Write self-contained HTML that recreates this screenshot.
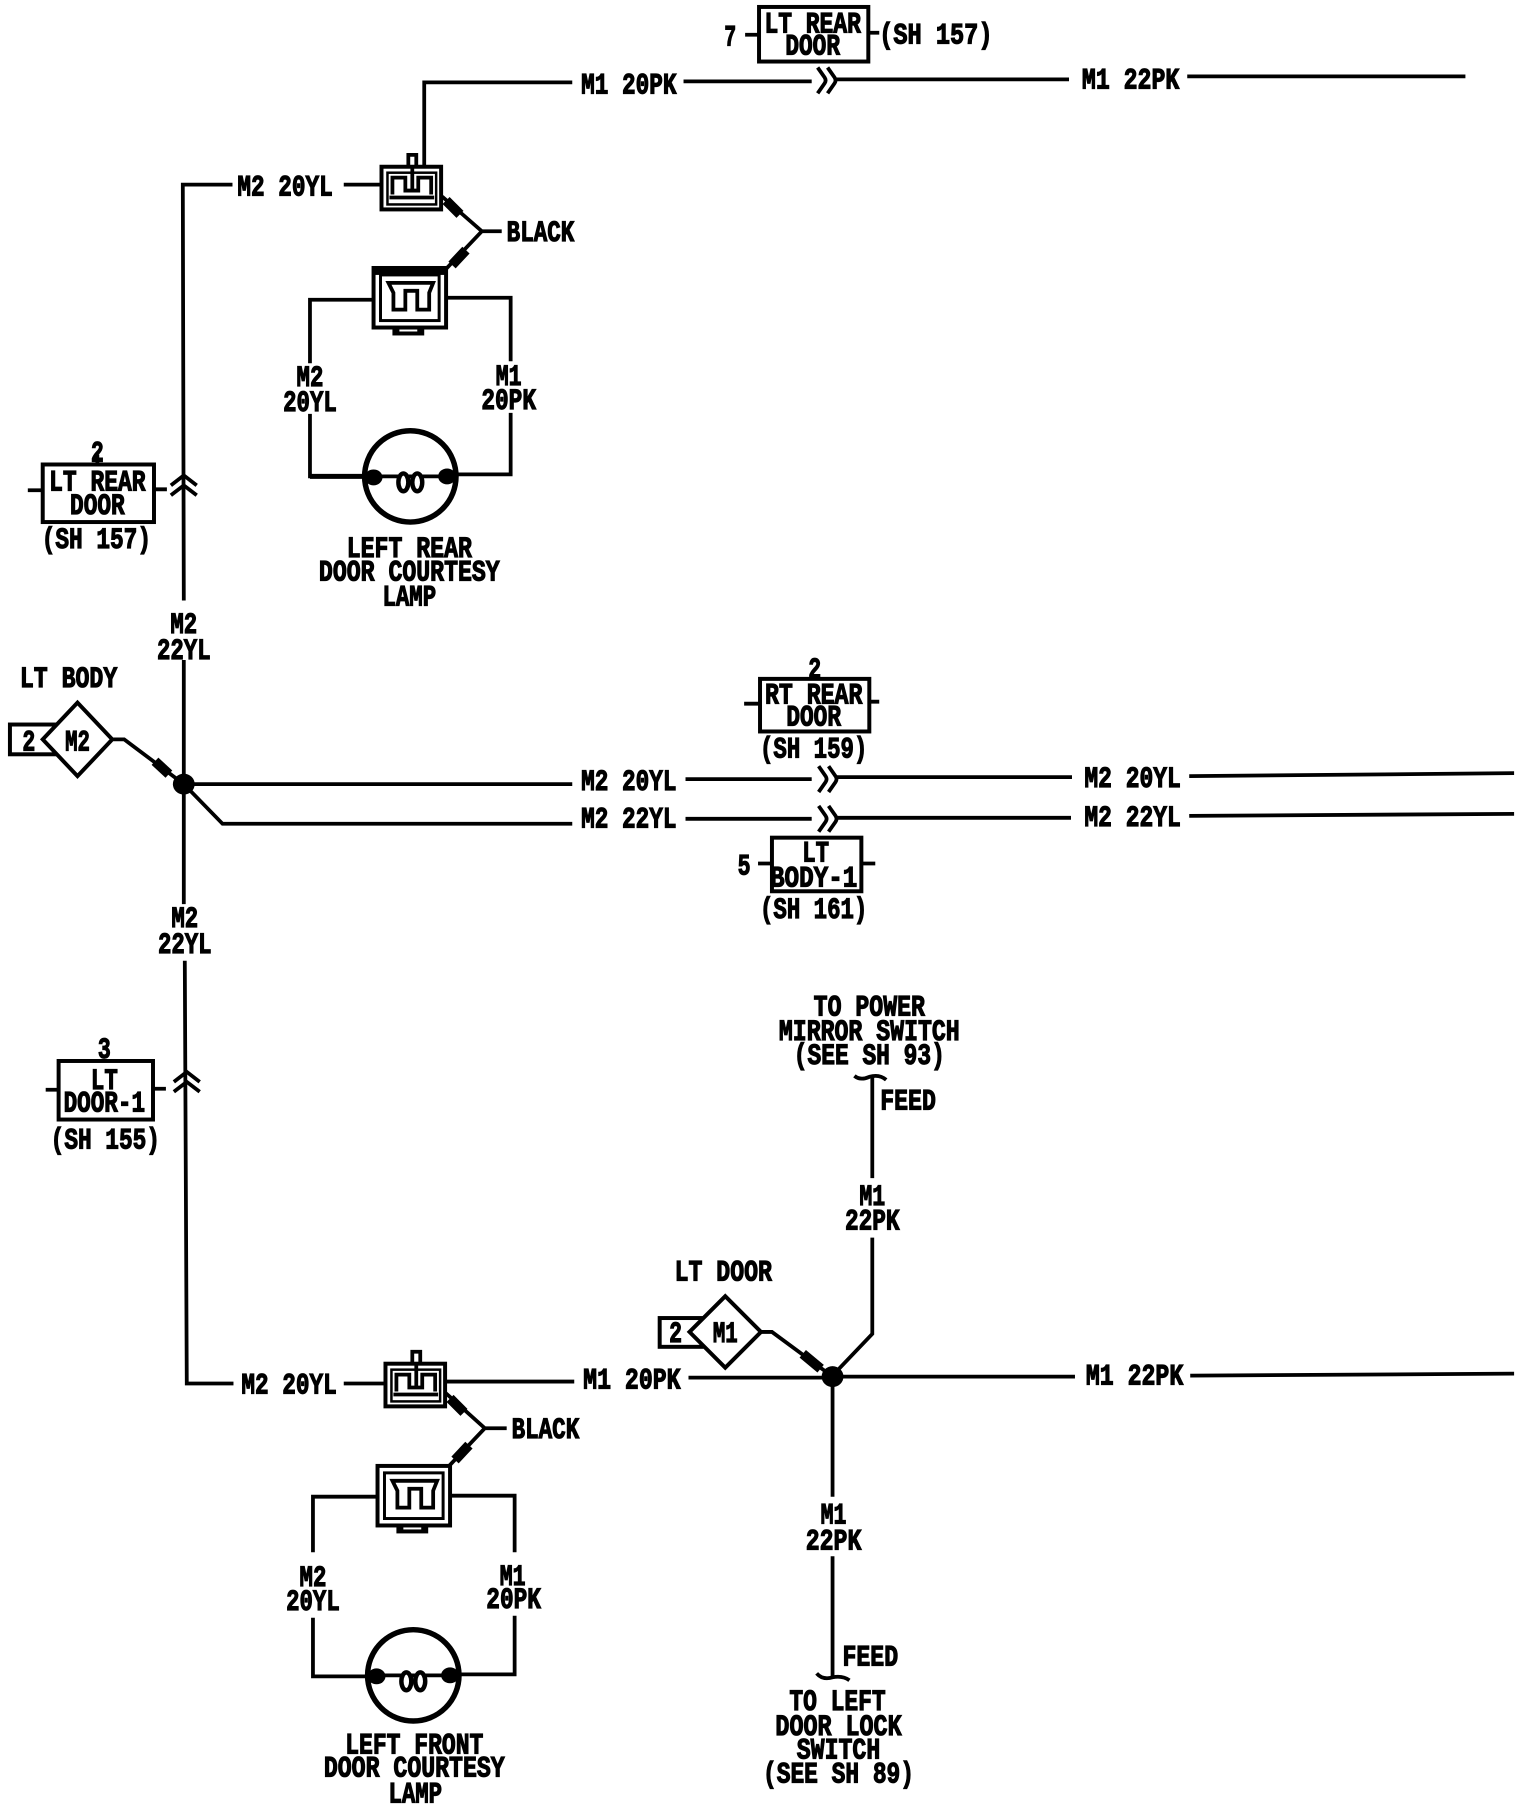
<!DOCTYPE html>
<html><head><meta charset="utf-8"><style>
html,body{margin:0;padding:0;background:#fff}
svg{display:block}
text{font-family:"Liberation Mono",monospace;font-weight:700;font-size:30px;fill:#000;stroke:#000;stroke-width:1.2;text-anchor:middle}
.w{fill:none;stroke:#000;stroke-width:3.8;stroke-linejoin:miter}
.b{fill:#fff;stroke:#000;stroke-width:4}
.k{fill:#000;stroke:none}
.s{stroke:#000;stroke-width:10;fill:none}
</style></head><body>
<svg xmlns="http://www.w3.org/2000/svg" width="1536" height="1812" viewBox="0 0 1536 1812">
<rect width="1536" height="1812" fill="#fff"/>
<defs>
<g id="ca">
<rect class="b" x="0" y="0" width="60" height="43"/>
<rect x="6" y="6" width="49" height="32" fill="none" stroke="#000" stroke-width="2.5"/>
<path class="w" d="M11 28V11H24V24H37V11H50V28" stroke-width="4"/>
<path class="w" d="M8 31H53" stroke-width="5"/>
<path class="w" d="M27 0V-12H35V0" stroke-width="3.5"/>
<path class="w" d="M31 0V24" stroke-width="6"/>
</g>
<g id="cb">
<rect x="19" y="56" width="32" height="12" fill="#000"/>
<rect x="26" y="59" width="18" height="5" fill="#fff"/>
<rect class="b" x="0" y="0" width="73" height="60"/>
<rect x="7" y="7" width="59" height="46" fill="none" stroke="#000" stroke-width="3"/>
<path class="w" d="M15 15H60L56 25V42H44V23H32V42H20V25Z" stroke-width="4.6"/>
</g>
<g id="lamp">
<circle cx="0" cy="0" r="46" fill="#fff" stroke="#000" stroke-width="5.5"/>
<path class="w" d="M-37 0H37"/>
<ellipse class="k" cx="-37" cy="1" rx="9" ry="8"/>
<ellipse class="k" cx="37" cy="0" rx="9" ry="8"/>
<ellipse cx="-7" cy="6" rx="5" ry="9" fill="#fff" stroke="#000" stroke-width="4.5"/>
<ellipse cx="7" cy="6" rx="5" ry="9" fill="#fff" stroke="#000" stroke-width="4.5"/>
</g>
<path id="gt" class="w" d="M0 -13L7 -3Q9 0 7 3L0 13M10 -13L17 -3Q19 0 17 3L10 13" stroke-width="4.2"/>
<path id="br" class="w" d="M-13 0L0 -10L13 0M-13 10L0 0L13 10" stroke-width="3.6"/>
</defs>

<g transform="scale(.9935 .9925)">
<!-- top wires -->
<path class="w" d="M427 178V83H576"/>
<path class="w" d="M688 82H817"/>
<use href="#gt" x="823" y="81"/>
<path class="w" d="M841 80H1076" stroke-width="4"/>
<path class="w" d="M1195 77H1475" stroke-width="4"/>
<text x="633" y="94" textLength="96" lengthAdjust="spacingAndGlyphs">M1 20PK</text>
<text x="1138" y="89" textLength="98" lengthAdjust="spacingAndGlyphs">M1 22PK</text>

<!-- LT REAR DOOR top -->
<rect class="b" x="764" y="7" width="110" height="55"/>
<path class="w" d="M750 35H764M874 33H885"/>
<text x="735" y="46" textLength="12" lengthAdjust="spacingAndGlyphs">7</text>
<text x="818" y="33" textLength="97" lengthAdjust="spacingAndGlyphs">LT REAR</text>
<text x="818" y="55" textLength="55" lengthAdjust="spacingAndGlyphs">DOOR</text>
<text x="942" y="44" textLength="114" lengthAdjust="spacingAndGlyphs">(SH 157)</text>

<!-- M2 main vertical -->
<path class="w" d="M234 186H184L185 605"/>
<path class="w" d="M185 665V911"/>
<path class="w" d="M186 968L188 1394H235"/>
<path class="w" d="M346 186H386"/>
<text x="287" y="197" textLength="96" lengthAdjust="spacingAndGlyphs">M2 20YL</text>
<use href="#br" x="185" y="489"/>
<use href="#br" x="188" y="1090"/>

<!-- connector 1 -->
<use href="#ca" x="384" y="168"/>
<path class="w" d="M445 198L485 233L448 272M485 233H505"/>
<path class="s" d="M449 202L463 216"/>
<path class="s" d="M455 267L469 252"/>
<text x="544" y="243" textLength="68" lengthAdjust="spacingAndGlyphs">BLACK</text>

<!-- connector 2 + lamp -->
<use href="#cb" x="376" y="270"/>
<rect x="376" y="270" width="73" height="7" fill="#000"/>
<path class="w" d="M376 302H312V366M312 417V480H366"/>
<path class="w" d="M449 300H514V364M514 416V478H458"/>
<path d="M312 480H366" stroke="#000" stroke-width="5"/>
<use href="#lamp" x="413" y="480"/>
<text x="312" y="389" textLength="27" lengthAdjust="spacingAndGlyphs">M2</text>
<text x="312" y="414" textLength="54" lengthAdjust="spacingAndGlyphs">20YL</text>
<text x="512" y="388" textLength="26" lengthAdjust="spacingAndGlyphs">M1</text>
<text x="512" y="412" textLength="55" lengthAdjust="spacingAndGlyphs">20PK</text>
<text x="412" y="561" textLength="126" lengthAdjust="spacingAndGlyphs">LEFT REAR</text>
<text x="412" y="585" textLength="182" lengthAdjust="spacingAndGlyphs">DOOR COURTESY</text>
<text x="412" y="610" textLength="54" lengthAdjust="spacingAndGlyphs">LAMP</text>

<!-- LT REAR DOOR left -->
<rect class="b" x="43" y="468" width="112" height="58"/>
<path class="w" d="M98 458V468M28 494H43M155 493H168"/>
<text x="98" y="465" textLength="13" lengthAdjust="spacingAndGlyphs">2</text>
<text x="98" y="494" textLength="97" lengthAdjust="spacingAndGlyphs">LT REAR</text>
<text x="98" y="518" textLength="55" lengthAdjust="spacingAndGlyphs">DOOR</text>
<text x="97" y="552" textLength="110" lengthAdjust="spacingAndGlyphs">(SH 157)</text>

<text x="185" y="638" textLength="27" lengthAdjust="spacingAndGlyphs">M2</text>
<text x="185" y="664" textLength="54" lengthAdjust="spacingAndGlyphs">22YL</text>

<!-- LT BODY -->
<text x="69" y="692" textLength="98" lengthAdjust="spacingAndGlyphs">LT BODY</text>
<rect class="b" x="10" y="730" width="46" height="30"/>
<path class="b" d="M43 745L78 708L113 745L78 782Z"/>
<text x="29" y="756" textLength="13" lengthAdjust="spacingAndGlyphs">2</text>
<text x="78" y="756" textLength="25" lengthAdjust="spacingAndGlyphs">M2</text>
<path class="w" d="M114 745H125L185 790"/>
<path class="s" d="M156 767L170 780" stroke-width="8"/>
<ellipse class="k" cx="185" cy="790" rx="11" ry="10.5"/>

<path class="w" d="M185 790H576" stroke-width="4"/>
<path class="w" d="M185 790L224 830H576" stroke-width="4"/>
<text x="633" y="796" textLength="96" lengthAdjust="spacingAndGlyphs">M2 20YL</text>
<text x="633" y="834" textLength="96" lengthAdjust="spacingAndGlyphs">M2 22YL</text>
<path class="w" d="M690 785H817" stroke-width="4"/>
<use href="#gt" x="824" y="785"/>
<path class="w" d="M842 783H1079" stroke-width="4"/>
<path class="w" d="M690 825H817" stroke-width="4"/>
<use href="#gt" x="824" y="825"/>
<path class="w" d="M842 824H1078" stroke-width="4"/>
<text x="1140" y="793" textLength="97" lengthAdjust="spacingAndGlyphs">M2 20YL</text>
<text x="1140" y="832" textLength="97" lengthAdjust="spacingAndGlyphs">M2 22YL</text>
<path class="w" d="M1197 782L1524 779" stroke-width="4"/>
<path class="w" d="M1197 822L1524 820" stroke-width="4"/>

<!-- RT REAR DOOR -->
<rect class="b" x="765" y="684" width="110" height="53"/>
<path class="w" d="M749 709H765M875 707H885"/>
<text x="820" y="683" textLength="13" lengthAdjust="spacingAndGlyphs">2</text>
<text x="819" y="709" textLength="98" lengthAdjust="spacingAndGlyphs">RT REAR</text>
<text x="819" y="731" textLength="55" lengthAdjust="spacingAndGlyphs">DOOR</text>
<text x="819" y="763" textLength="108" lengthAdjust="spacingAndGlyphs">(SH 159)</text>

<!-- LT BODY-1 -->
<rect class="b" x="777" y="844" width="90" height="54"/>
<path class="w" d="M763 870H777M867 870H881"/>
<text x="749" y="881" textLength="13" lengthAdjust="spacingAndGlyphs">5</text>
<text x="821" y="868" textLength="27" lengthAdjust="spacingAndGlyphs">LT</text>
<text x="819" y="893" textLength="88" lengthAdjust="spacingAndGlyphs">BODY-1</text>
<text x="819" y="925" textLength="108" lengthAdjust="spacingAndGlyphs">(SH 161)</text>

<text x="186" y="934" textLength="27" lengthAdjust="spacingAndGlyphs">M2</text>
<text x="186" y="960" textLength="54" lengthAdjust="spacingAndGlyphs">22YL</text>

<!-- LT DOOR-1 -->
<rect class="b" x="59" y="1069" width="95" height="59"/>
<path class="w" d="M46 1098H59M154 1097H167"/>
<text x="105" y="1066" textLength="13" lengthAdjust="spacingAndGlyphs">3</text>
<text x="105" y="1097" textLength="27" lengthAdjust="spacingAndGlyphs">LT</text>
<text x="105" y="1120" textLength="82" lengthAdjust="spacingAndGlyphs">DOOR-1</text>
<text x="106" y="1157" textLength="110" lengthAdjust="spacingAndGlyphs">(SH 155)</text>

<!-- power mirror -->
<text x="875" y="1023" textLength="112" lengthAdjust="spacingAndGlyphs">TO POWER</text>
<text x="875" y="1048" textLength="182" lengthAdjust="spacingAndGlyphs">MIRROR SWITCH</text>
<text x="875" y="1072" textLength="152" lengthAdjust="spacingAndGlyphs">(SEE SH 93)</text>
<path class="w" d="M860 1084Q866 1089 875 1085Q885 1082 892 1088" stroke-width="2.6"/>
<path class="w" d="M878 1085V1187M878 1247V1344L837 1387"/>
<text x="914" y="1118" textLength="56" lengthAdjust="spacingAndGlyphs">FEED</text>
<text x="878" y="1214" textLength="26" lengthAdjust="spacingAndGlyphs">M1</text>
<text x="878" y="1239" textLength="55" lengthAdjust="spacingAndGlyphs">22PK</text>

<!-- LT DOOR diamond -->
<text x="728" y="1290" textLength="98" lengthAdjust="spacingAndGlyphs">LT DOOR</text>
<rect class="b" x="664" y="1328" width="42" height="29"/>
<path class="b" d="M694 1342L730 1306L766 1342L730 1378Z"/>
<text x="680" y="1352" textLength="13" lengthAdjust="spacingAndGlyphs">2</text>
<text x="730" y="1352" textLength="25" lengthAdjust="spacingAndGlyphs">M1</text>
<path class="w" d="M766 1342H777L838 1387"/>
<path class="s" d="M808 1364L826 1379" stroke-width="8"/>
<ellipse class="k" cx="838" cy="1387" rx="11" ry="10.5"/>
<path class="w" d="M693 1388H838"/>
<path class="w" d="M838 1387H1082" stroke-width="4"/>
<text x="1142" y="1395" textLength="98" lengthAdjust="spacingAndGlyphs">M1 22PK</text>
<path class="w" d="M1198 1386L1524 1384" stroke-width="5"/>
<path class="w" d="M838 1387V1508M838 1568V1690"/>
<text x="839" y="1535" textLength="26" lengthAdjust="spacingAndGlyphs">M1</text>
<text x="839" y="1561" textLength="56" lengthAdjust="spacingAndGlyphs">22PK</text>
<path class="w" d="M822 1686Q828 1693 838 1690Q848 1688 855 1693" stroke-width="2.6"/>
<text x="876" y="1678" textLength="56" lengthAdjust="spacingAndGlyphs">FEED</text>
<text x="843" y="1723" textLength="97" lengthAdjust="spacingAndGlyphs">TO LEFT</text>
<text x="844" y="1748" textLength="127" lengthAdjust="spacingAndGlyphs">DOOR LOCK</text>
<text x="844" y="1772" textLength="84" lengthAdjust="spacingAndGlyphs">SWITCH</text>
<text x="844" y="1796" textLength="152" lengthAdjust="spacingAndGlyphs">(SEE SH 89)</text>

<!-- bottom connector -->
<text x="291" y="1404" textLength="96" lengthAdjust="spacingAndGlyphs">M2 20YL</text>
<path class="w" d="M346 1394H388"/>
<use href="#ca" x="388" y="1374"/>
<path class="w" d="M448 1392H578"/>
<text x="636" y="1399" textLength="98" lengthAdjust="spacingAndGlyphs">M1 20PK</text>
<path class="w" d="M448 1403L488 1439L452 1477M488 1439H510"/>
<path class="s" d="M453 1409L467 1423"/>
<path class="s" d="M458 1471L472 1456"/>
<text x="549" y="1449" textLength="68" lengthAdjust="spacingAndGlyphs">BLACK</text>

<use href="#cb" x="380" y="1477"/>
<path class="w" d="M380 1508H315V1564M315 1630V1689H370"/>
<path class="w" d="M453 1507H518V1564M518 1628V1687H462"/>
<use href="#lamp" x="416" y="1688"/>
<text x="315" y="1598" textLength="27" lengthAdjust="spacingAndGlyphs">M2</text>
<text x="315" y="1622" textLength="54" lengthAdjust="spacingAndGlyphs">20YL</text>
<text x="516" y="1597" textLength="26" lengthAdjust="spacingAndGlyphs">M1</text>
<text x="517" y="1620" textLength="55" lengthAdjust="spacingAndGlyphs">20PK</text>
<text x="417" y="1767" textLength="139" lengthAdjust="spacingAndGlyphs">LEFT FRONT</text>
<text x="417" y="1790" textLength="182" lengthAdjust="spacingAndGlyphs">DOOR COURTESY</text>
<text x="418" y="1816" textLength="54" lengthAdjust="spacingAndGlyphs">LAMP</text>
</g>
</svg>
</body></html>
